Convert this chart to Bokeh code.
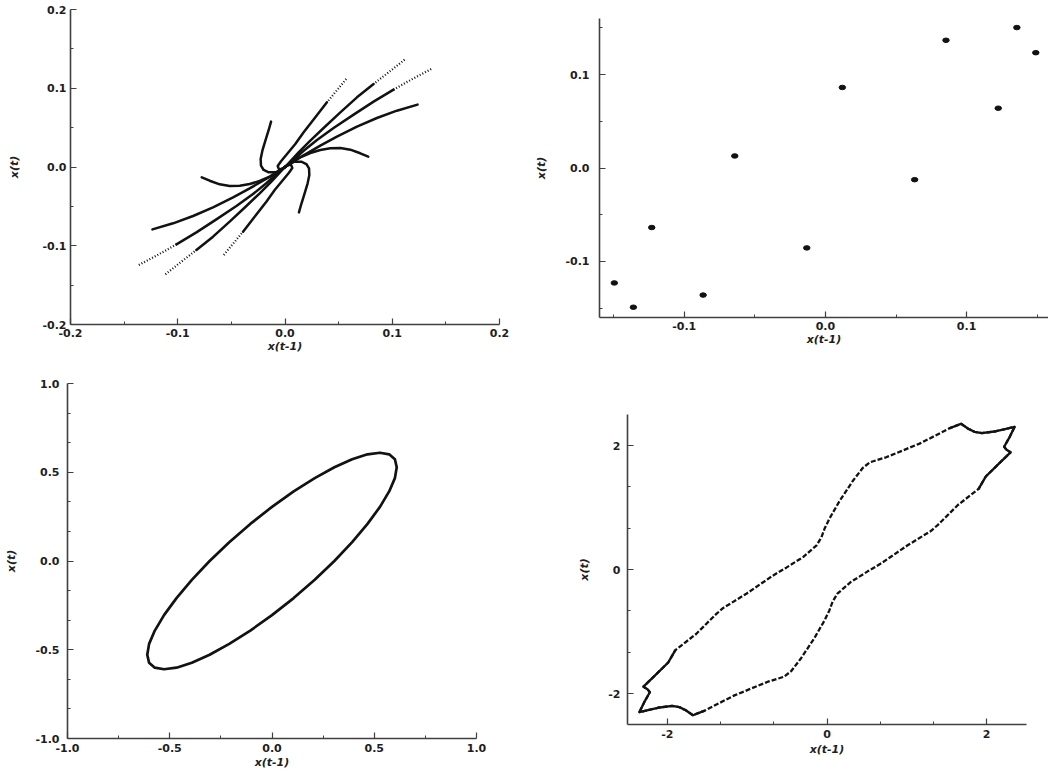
from bokeh.plotting import figure
from bokeh.layouts import column, row
from bokeh.models import Range1d, FixedTicker, PrintfTickFormatter
from bokeh.embed import file_html
from bokeh.resources import INLINE

# ---------------- data: panel (a) trajectories spiralling into the origin ----------------
tr1_dot_x = [0.0571, 0.0391]
tr1_dot_y = [0.1117, 0.0821]
tr1_x = [0.0391, 0.0283, 0.0174, 0.0096, 0.0019, -0.0037, -0.0068, -0.0056, -0.0025, 0.0]
tr1_y = [0.0821, 0.0631, 0.0440, 0.0292, 0.0165, 0.0072, 0.0013, -0.0030, -0.0021, 0.0]
tr2_dot_x = [0.1115, 0.0966, 0.0826]
tr2_dot_y = [0.1363, 0.1202, 0.1054]
tr2_x = [0.0826, 0.0671, 0.0516, 0.0360, 0.0236, 0.0127, 0.0050, 0.0]
tr2_y = [0.1054, 0.0885, 0.0694, 0.0495, 0.0334, 0.0186, 0.0072, 0.0]
tr3_dot_x = [0.1363, 0.1199, 0.1012]
tr3_dot_y = [0.1244, 0.1126, 0.0982]
tr3_x = [0.1012, 0.0826, 0.0640, 0.0453, 0.0298, 0.0174, 0.0081, 0.0025, 0.0]
tr3_y = [0.0982, 0.0830, 0.0665, 0.0495, 0.0343, 0.0207, 0.0093, 0.0030, 0.0]
tr4_x = [0.1236, 0.1043, 0.0857, 0.0671, 0.0484, 0.0329, 0.0205, 0.0112, 0.0043, 0.0]
tr4_y = [0.0792, 0.0715, 0.0622, 0.0512, 0.0385, 0.0271, 0.0174, 0.0102, 0.0038, 0.0]
tr5_x = [0.0776, 0.0702, 0.0609, 0.0516, 0.0422, 0.0329, 0.0236, 0.0143, 0.0081, 0.0034, 0.0]
tr5_y = [0.0131, 0.0174, 0.0220, 0.0241, 0.0237, 0.0216, 0.0178, 0.0123, 0.0072, 0.0030, 0.0]
tr6_x = [-0.0130, -0.0152, -0.0183, -0.0211, -0.0227, -0.0224, -0.0199, -0.0152, -0.0090, -0.0037, 0.0]
tr6_y = [0.0576, 0.0470, 0.0334, 0.0207, 0.0102, 0.0017, -0.0038, -0.0068, -0.0068, -0.0038, 0.0]

tr7_dot_x = [-0.0571, -0.0391]
tr7_dot_y = [-0.1117, -0.0821]
tr7_x = [-0.0391, -0.0283, -0.0174, -0.0096, -0.0019, 0.0037, 0.0068, 0.0056, 0.0025, 0.0]
tr7_y = [-0.0821, -0.0631, -0.0440, -0.0292, -0.0165, -0.0072, -0.0013, 0.0030, 0.0021, 0.0]
tr8_dot_x = [-0.1115, -0.0966, -0.0826]
tr8_dot_y = [-0.1363, -0.1202, -0.1054]
tr8_x = [-0.0826, -0.0671, -0.0516, -0.0360, -0.0236, -0.0127, -0.0050, 0.0]
tr8_y = [-0.1054, -0.0885, -0.0694, -0.0495, -0.0334, -0.0186, -0.0072, 0.0]
tr9_dot_x = [-0.1363, -0.1199, -0.1012]
tr9_dot_y = [-0.1244, -0.1126, -0.0982]
tr9_x = [-0.1012, -0.0826, -0.0640, -0.0453, -0.0298, -0.0174, -0.0081, -0.0025, 0.0]
tr9_y = [-0.0982, -0.0830, -0.0665, -0.0495, -0.0343, -0.0207, -0.0093, -0.0030, 0.0]
tr10_x = [-0.1236, -0.1043, -0.0857, -0.0671, -0.0484, -0.0329, -0.0205, -0.0112, -0.0043, 0.0]
tr10_y = [-0.0792, -0.0715, -0.0622, -0.0512, -0.0385, -0.0271, -0.0174, -0.0102, -0.0038, 0.0]
tr11_x = [-0.0776, -0.0702, -0.0609, -0.0516, -0.0422, -0.0329, -0.0236, -0.0143, -0.0081, -0.0034, 0.0]
tr11_y = [-0.0131, -0.0174, -0.0220, -0.0241, -0.0237, -0.0216, -0.0178, -0.0123, -0.0072, -0.0030, 0.0]
tr12_x = [0.0130, 0.0152, 0.0183, 0.0211, 0.0227, 0.0224, 0.0199, 0.0152, 0.0090, 0.0037, 0.0]
tr12_y = [-0.0576, -0.0470, -0.0334, -0.0207, -0.0102, -0.0017, 0.0038, 0.0068, 0.0068, 0.0038, 0.0]

# ---------------- data: panel (b) scattered points ----------------
pts_x = [-0.1495, -0.1360, -0.1230, -0.0866, -0.0642, -0.0132, 0.0120, 0.0632, 0.0854, 0.1224, 0.1356, 0.1490]
pts_y = [-0.1230, -0.1490, -0.0637, -0.1360, 0.0129, -0.0855, 0.0862, -0.0125, 0.1367, 0.0640, 0.1503, 0.1234]

# ---------------- data: panel (c) limit cycle (ellipse) ----------------
ell_x = [0.0, 0.106, 0.209, 0.305, 0.392, 0.467, 0.528, 0.573, 0.601, 0.610, 0.601, 0.573,
         0.528, 0.467, 0.392, 0.305, 0.209, 0.106, 0.0, -0.106, -0.209, -0.305, -0.392, -0.467,
         -0.528, -0.573, -0.601, -0.610, -0.601, -0.573, -0.528, -0.467, -0.392, -0.305, -0.209, -0.106, 0.0]
ell_y = [0.305, 0.392, 0.467, 0.528, 0.573, 0.601, 0.610, 0.601, 0.573, 0.528, 0.467, 0.392,
         0.305, 0.209, 0.106, 0.0, -0.106, -0.209, -0.305, -0.392, -0.467, -0.528, -0.573, -0.601,
         -0.610, -0.601, -0.573, -0.528, -0.467, -0.392, -0.305, -0.209, -0.106, 0.0, 0.106, 0.209, 0.305]

# ---------------- data: panel (d) distorted loop ----------------
up_x = [-2.35, -2.29, -2.22, -2.25, -2.30, -2.18, -1.99, -1.94, -1.90, -1.64, -1.39, -1.30, -1.01,
        -0.68, -0.51, -0.30, -0.13, -0.07, -0.03, 0.03, 0.16, 0.33, 0.45, 0.54, 0.74, 1.16, 1.54,
        1.68, 1.77, 1.85, 1.94, 2.12, 2.35]
up_y = [-2.30, -2.14, -1.98, -1.93, -1.89, -1.74, -1.50, -1.39, -1.30, -1.04, -0.72, -0.62, -0.39,
        -0.10, 0.03, 0.20, 0.39, 0.52, 0.66, 0.82, 1.11, 1.44, 1.64, 1.73, 1.81, 2.03, 2.28,
        2.35, 2.27, 2.22, 2.20, 2.23, 2.30]
lo_x = [2.35, 2.29, 2.22, 2.25, 2.30, 2.18, 1.99, 1.94, 1.90, 1.64, 1.39, 1.30, 1.01,
        0.68, 0.51, 0.30, 0.13, 0.07, 0.03, -0.03, -0.16, -0.33, -0.45, -0.54, -0.74, -1.16, -1.54,
        -1.68, -1.77, -1.85, -1.94, -2.12, -2.35]
lo_y = [2.30, 2.14, 1.98, 1.93, 1.89, 1.74, 1.50, 1.39, 1.30, 1.04, 0.72, 0.62, 0.39,
        0.10, -0.03, -0.20, -0.39, -0.52, -0.66, -0.82, -1.11, -1.44, -1.64, -1.73, -1.81, -2.03, -2.28,
        -2.35, -2.27, -2.22, -2.20, -2.23, -2.30]

# ---------------- tick labels ----------------
ticks_a = [-0.2, -0.1, 0.0, 0.1, 0.2]
minor_a = [-0.15, -0.05, 0.05, 0.15]
ticks_b = [-0.1, 0.0, 0.1]
minor_b = [-0.15, -0.05, 0.05, 0.15]
ticks_c = [-1.0, -0.5, 0.0, 0.5, 1.0]
minor_cx = [-0.75, -0.25, 0.25, 0.75]
minor_cy = [-0.8333, -0.6667, -0.3333, -0.1667, 0.1667, 0.3333, 0.6667, 0.8333]
ticks_d = [-2, 0, 2]
minor_d = [-1.3333, -0.6667, 0.6667, 1.3333]

X_LABEL = "x(t-1)"
Y_LABEL = "x(t)"

INK = "#121212"
AXIS = "#404040"
FONT = "DejaVu Sans"


def make_fig(w, h, xr, yr, bl, br, bt, bb):
    p = figure(width=w, height=h, x_range=Range1d(*xr), y_range=Range1d(*yr),
               output_backend="svg", toolbar_location=None,
               min_border_left=bl, min_border_right=br, min_border_top=bt, min_border_bottom=bb)
    p.outline_line_color = None
    p.xgrid.visible = False
    p.ygrid.visible = False
    p.background_fill_color = "white"
    p.border_fill_color = "white"
    for ax in (p.xaxis[0], p.yaxis[0]):
        ax.axis_line_color = AXIS
        ax.axis_line_width = 1.6
        ax.major_tick_line_color = AXIS
        ax.minor_tick_line_color = AXIS
        ax.major_tick_line_width = 1.2
        ax.minor_tick_line_width = 1.0
        ax.major_tick_in = 6
        ax.major_tick_out = 0
        ax.minor_tick_in = 3
        ax.minor_tick_out = 0
        ax.major_label_text_font = FONT
        ax.major_label_text_font_style = "bold"
        ax.major_label_text_font_size = "11px"
        ax.major_label_text_color = "#1e1e1e"
        ax.axis_label_text_font = FONT
        ax.axis_label_text_font_style = "bold italic"
        ax.axis_label_text_font_size = "11px"
        ax.axis_label_text_color = "#1e1e1e"
    p.xaxis.axis_label = X_LABEL
    p.yaxis.axis_label = Y_LABEL
    return p


# ---- panel (a)
pa = make_fig(524, 360, (-0.2, 0.2), (-0.2, 0.2), 70, 25, 9, 36)
pa.xaxis.ticker = FixedTicker(ticks=ticks_a, minor_ticks=minor_a)
pa.yaxis.ticker = FixedTicker(ticks=ticks_a, minor_ticks=minor_a)
pa.xaxis.formatter = PrintfTickFormatter(format="%.1f")
pa.yaxis.formatter = PrintfTickFormatter(format="%.1f")
pa.xaxis.major_label_standoff = 4
pa.xaxis.axis_label_standoff = 0
pa.yaxis.major_label_standoff = 4
pa.yaxis.axis_label_standoff = 18
for dx, dy in [(tr1_dot_x, tr1_dot_y), (tr2_dot_x, tr2_dot_y), (tr3_dot_x, tr3_dot_y),
               (tr7_dot_x, tr7_dot_y), (tr8_dot_x, tr8_dot_y), (tr9_dot_x, tr9_dot_y)]:
    pa.line(dx, dy, line_color=INK, line_width=2.2, line_dash="1 2")
for sx, sy in [(tr1_x, tr1_y), (tr2_x, tr2_y), (tr3_x, tr3_y), (tr4_x, tr4_y), (tr5_x, tr5_y),
               (tr6_x, tr6_y), (tr7_x, tr7_y), (tr8_x, tr8_y), (tr9_x, tr9_y), (tr10_x, tr10_y),
               (tr11_x, tr11_y), (tr12_x, tr12_y)]:
    pa.line(sx, sy, line_color=INK, line_width=2.5, line_join="round", line_cap="round")

# ---- panel (b)
pb = make_fig(524, 360, (-0.16, 0.158), (-0.16, 0.16), 75, 0, 18, 43)
pb.xaxis.ticker = FixedTicker(ticks=ticks_b, minor_ticks=minor_b)
pb.yaxis.ticker = FixedTicker(ticks=ticks_b, minor_ticks=minor_b)
pb.xaxis.formatter = PrintfTickFormatter(format="%.1f")
pb.yaxis.formatter = PrintfTickFormatter(format="%.1f")
pb.xaxis.major_label_standoff = 4
pb.xaxis.axis_label_standoff = 0
pb.yaxis.major_label_standoff = 10
pb.yaxis.axis_label_standoff = 14
pb.ellipse(pts_x, pts_y, width=6.5, height=4.5, width_units="screen", height_units="screen",
           fill_color=INK, line_color=INK)

# ---- panel (c)
pc = make_fig(524, 412, (-1.0, 1.0), (-1.0, 1.0), 67, 48, 23, 34)
pc.xaxis.ticker = FixedTicker(ticks=ticks_c, minor_ticks=minor_cx)
pc.yaxis.ticker = FixedTicker(ticks=ticks_c, minor_ticks=minor_cy)
pc.xaxis.formatter = PrintfTickFormatter(format="%.1f")
pc.yaxis.formatter = PrintfTickFormatter(format="%.1f")
pc.xaxis.major_label_standoff = 5
pc.xaxis.axis_label_standoff = 1
pc.yaxis.major_label_standoff = 8
pc.yaxis.axis_label_standoff = 14
pc.line(ell_x, ell_y, line_color=INK, line_width=2.7, line_join="round")

# ---- panel (d)
pd_ = make_fig(524, 412, (-2.5, 2.5), (-2.5, 2.5), 103, 22, 54, 48)
pd_.xaxis.ticker = FixedTicker(ticks=ticks_d, minor_ticks=minor_d)
pd_.yaxis.ticker = FixedTicker(ticks=ticks_d, minor_ticks=minor_d)
pd_.xaxis.formatter = PrintfTickFormatter(format="%d")
pd_.yaxis.formatter = PrintfTickFormatter(format="%d")
pd_.xaxis.major_label_standoff = 5
pd_.xaxis.axis_label_standoff = 2
pd_.yaxis.major_label_standoff = 7
pd_.yaxis.axis_label_standoff = 14
pd_.line(up_x, up_y, line_color=INK, line_width=2.3, line_dash="5 2", line_join="round")
pd_.line(lo_x, lo_y, line_color=INK, line_width=2.3, line_dash="5 2", line_join="round")
# the wiggly corners of the loop are densely sampled, so they read as solid strokes
for sx, sy in [(up_x[:9], up_y[:9]), (up_x[26:], up_y[26:]),
               (lo_x[:9], lo_y[:9]), (lo_x[26:], lo_y[26:])]:
    pd_.line(sx, sy, line_color=INK, line_width=2.3, line_join="round", line_cap="round")

# wrap every figure in its own column so that frames of neighbouring plots are not aligned
layout = column(row(column(pa), column(pb)), row(column(pc), column(pd_)))
open("out.html", "w").write(file_html(layout, INLINE))
